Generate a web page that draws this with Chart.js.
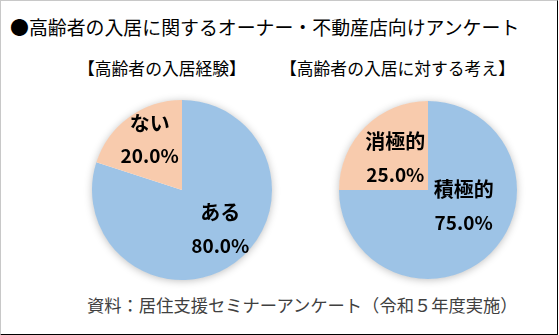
<!DOCTYPE html>
<html lang="ja">
<head>
<meta charset="utf-8">
<script src="https://cdn.jsdelivr.net/npm/chart.js@4"></script>
<style>
  body { margin: 0; background: #fff; }
  #frame {
    position: relative; width: 556px; height: 333px; background: #fff;
    border-left: 1px solid #c8c8c8; border-top: 1px solid #c8c8c8;
    border-right: 1px solid #000; border-bottom: 2px solid #000;
    overflow: hidden; font-family: "Noto Sans CJK JP", sans-serif;
  }
  .txt { position: absolute; white-space: nowrap; color: #000; line-height: 24px; }
  #title { left: 9px; top: 14px; font-size: 18.9px; }
  .sub { top: 55px; font-size: 16.8px; }
  #sub1 { left: 77px; }
  #sub2 { left: 279px; }
  #source { left: 86px; top: 292px; font-size: 17.3px; color: #404040; }
  canvas { position: absolute; }
  #pie1 { left: 81px; top: 89px; }
  #pie2 { left: 327px; top: 89px; }
</style>
</head>
<body>
<div id="frame">
  <div id="title" class="txt">●高齢者の入居に関するオーナー・不動産店向けアンケート</div>
  <div id="sub1" class="txt sub">【高齢者の入居経験】</div>
  <div id="sub2" class="txt sub">【高齢者の入居に対する考え】</div>
  <canvas id="pie1" width="200" height="200"></canvas>
  <canvas id="pie2" width="200" height="200"></canvas>
  <div id="source" class="txt">資料：居住支援セミナーアンケート（令和５年度実施）</div>
</div>
<script>
// 高齢者の入居経験
const experienceLabels = ['ある', 'ない'];
const experienceValues = [80.0, 20.0];

// 高齢者の入居に対する考え
const attitudeLabels = ['積極的', '消極的'];
const attitudeValues = [75.0, 25.0];

const sliceColors = ['#9dc3e6', '#f8cbad'];

// soft shadow under the whole pie
const pieShadow = {
    id: 'pieShadow',
    beforeDatasetsDraw(chart) {
        const arc = chart.getDatasetMeta(0).data[0];
        const ctx = chart.ctx;
        ctx.save();
        ctx.shadowColor = 'rgba(0,0,0,0.28)';
        ctx.shadowBlur = 8;
        ctx.shadowOffsetY = 1;
        ctx.fillStyle = '#fff';
        ctx.beginPath();
        ctx.arc(arc.x, arc.y, arc.outerRadius - 0.5, 0, Math.PI * 2);
        ctx.fill();
        ctx.restore();
    }
};

// name + percentage inside each slice
const sliceLabels = {
    id: 'sliceLabels',
    afterDatasetsDraw(chart, args, opts) {
        const ctx = chart.ctx;
        const meta = chart.getDatasetMeta(0);
        const values = chart.data.datasets[0].data;
        ctx.save();
        ctx.fillStyle = '#000';
        ctx.textAlign = 'center';
        ctx.textBaseline = 'middle';
        meta.data.forEach((arc, i) => {
            const mid = (arc.startAngle + arc.endAngle) / 2;
            const nudge = opts.nudge[i];
            const x = arc.x + Math.cos(mid) * arc.outerRadius * 0.63 + nudge[0];
            const y = arc.y + Math.sin(mid) * arc.outerRadius * 0.63 + nudge[1];
            ctx.font = 'bold 20px "Noto Sans CJK JP"';
            ctx.fillText(chart.data.labels[i], x, y - 17);
            ctx.font = 'bold 19px "Noto Sans CJK JP"';
            ctx.fillText(values[i].toFixed(1) + '%', x, y + 16);
        });
        ctx.restore();
    }
};

function makePie(id, labels, values, pad, nudge) {
    return new Chart(document.getElementById(id), {
        type: 'pie',
        data: {
            labels: labels,
            datasets: [{
                data: values,
                backgroundColor: sliceColors,
                borderWidth: 0
            }]
        },
        options: {
            responsive: false,
            animation: false,
            layout: { padding: pad },
            plugins: {
                legend: { display: false },
                tooltip: { enabled: false },
                sliceLabels: { nudge: nudge }
            }
        },
        plugins: [pieShadow, sliceLabels]
    });
}

makePie('pie1', experienceLabels, experienceValues, 10, [[5, -6], [1, -4]]);
makePie('pie2', attitudeLabels, attitudeValues, 11, [[-4, -23], [7, 8]]);
</script>
</body>
</html>
